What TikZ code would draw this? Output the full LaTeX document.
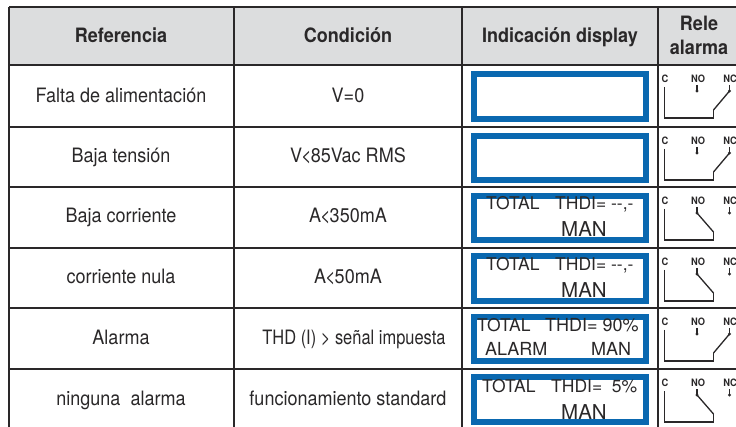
\documentclass[tikz,border=0pt]{standalone}
\usepackage{fontspec}
\setmainfont[FakeStretch=0.91]{TeX Gyre Heros}
\newfontface\thdfont[FakeStretch=0.83]{TeX Gyre Heros}
\newfontface\dispfont{TeX Gyre Heros}
\definecolor{ink}{HTML}{2A2829}
\definecolor{headbg}{HTML}{DCDDDE}
\definecolor{dispblue}{HTML}{0A68B0}
\newcommand{\lessk}{\kern-1pt<\kern-1pt}
\tikzset{
 rule/.style={draw=ink,line width=2pt},
 headtxt/.style={font=\fontsize{19.8}{24}\selectfont\bfseries,text=ink,inner sep=0pt,anchor=base},
 celltxt/.style={font=\fontsize{19.8}{22}\selectfont,text=ink,inner sep=0pt,anchor=base},
 disptxt/.style={font=\dispfont\fontsize{17.5}{20}\selectfont,text=ink,inner sep=0pt,anchor=base west},
 manfont/.style={font=\dispfont\fontsize{20.5}{22}\selectfont,text=ink,inner sep=0pt,anchor=base west},
 dispbox/.style={draw=dispblue,line width=6pt,fill=white,minimum width=172pt,minimum height=44.5pt,anchor=center},
 rlab/.style={font=\fontsize{10.2}{11}\selectfont\bfseries,text=ink,inner sep=0pt},
 wire/.style={draw=ink,line width=1.3pt},
}
\newcommand{\relaycell}[2]{%
 \node[rlab] (#1c) at (665,{-(#2+14)}) {C};
 \node[rlab] (#1no) at (698,{-(#2+14)}) {NO};
 \node[rlab] (#1nc) at (730,{-(#2+14)}) {NC};
 \coordinate (#1ct) at (664.5,{-(#2+22)});
 \coordinate (#1cb) at (664.5,{-(#2+53)});
 \coordinate (#1pb) at (713.5,{-(#2+53)});
 \coordinate (#1pk) at (713.5,{-(#2+45)});
 \coordinate (#1not) at (697,{-(#2+20)});
 \coordinate (#1nob) at (697,{-(#2+26)});
 \coordinate (#1nct) at (729.5,{-(#2+20)});
 \coordinate (#1ncb) at (729.5,{-(#2+26)});
 \draw[wire] (#1ct) -- (#1cb) -- (#1pb) -- (#1pk);
 \draw[wire] (#1not) -- (#1nob); \fill[ink] (#1nob) circle (1.7pt);
 \draw[wire] (#1nct) -- (#1ncb); \fill[ink] (#1ncb) circle (1.7pt);
}
\begin{document}
\begin{tikzpicture}[x=1pt,y=1pt]
\useasboundingbox (0,0) rectangle (736,-427);
\fill[white] (0,0) rectangle (736,-427);
\fill[headbg] (9,-7) rectangle (736,-65);
% headers
\node[headtxt] (h1) at (121,-43) {Referencia};
\node[headtxt] (h2) at (348,-43) {Condición};
\node[headtxt] (h3) at (560,-43) {Indicación display};
\node[headtxt] (h4a) at (699,-31) {Rele};
\node[headtxt] (h4b) at (699,-55) {alarma};
% column 1
\node[celltxt] (a1) at (121,-102.5) {Falta de alimentación};
\node[celltxt] (a2) at (121,-163) {Baja tensión};
\node[celltxt] (a3) at (121,-223) {Baja corriente};
\node[celltxt] (a4) at (121,-284) {corriente nula};
\node[celltxt] (a5) at (121,-344.5) {Alarma};
\node[celltxt] (a6) at (121,-405) {ninguna\ \ alarma};
% column 2
\node[celltxt] (b1) at (348,-102.5) {V=0};
\node[celltxt] (b2) at (348,-163) {V\lessk 85Vac RMS};
\node[celltxt] (b3) at (348,-223) {A\lessk 350mA};
\node[celltxt] (b4) at (348,-284) {A\lessk 50mA};
\node[celltxt,font=\thdfont\fontsize{19.8}{22}\selectfont] (b5) at (354,-344.5) {THD (I) > señal impuesta};
\node[celltxt] (b6) at (348,-405) {funcionamiento standard};
% displays
\node[dispbox] (d1) at (560,-96.5) {};
\node[dispbox] (d2) at (560,-158) {};
\node[dispbox] (d3) at (560,-218) {};
\node[dispbox] (d4) at (560,-278.5) {};
\node[dispbox] (d5) at (560,-339) {};
\node[dispbox] (d6) at (560,-399.5) {};
% display texts
\node[disptxt] (t3a) at (486,-210) {TOTAL};
\node[disptxt] (t3b) at (555,-210) {THDI= -{}-,-};
\node[manfont] (t3c) at (561,-237) {MAN};
\node[disptxt] (t4a) at (486,-271) {TOTAL};
\node[disptxt] (t4b) at (555,-271) {THDI= -{}-,-};
\node[manfont] (t4c) at (561,-298) {MAN};
\node[disptxt] (t5a) at (477,-332) {TOTAL};
\node[disptxt,font=\dispfont\fontsize{18}{20}\selectfont] (t5b) at (545,-332) {THDI= 90\%};
\node[disptxt,font=\dispfont\fontsize{18}{20}\selectfont] (t5c) at (485,-355.5) {ALARM};
\node[disptxt,font=\dispfont\fontsize{18}{20}\selectfont] (t5d) at (591,-355.5) {MAN};
\node[disptxt] (t6a) at (482,-392) {TOTAL};
\node[disptxt] (t6b) at (551,-392) {THDI=\ \ 5\%};
\node[manfont] (t6c) at (561,-419) {MAN};
% relays
\relaycell{r1}{65}
\draw[wire] (r1pk) -- (r1ncb);
\relaycell{r2}{127}
\draw[wire] (r2pk) -- (r2ncb);
\relaycell{r3}{187}
\draw[wire] (r3pk) -- (r3nob);
\relaycell{r4}{248}
\draw[wire] (r4pk) -- (r4nob);
\relaycell{r5}{308}
\draw[wire] (r5pk) -- (r5ncb);
\relaycell{r6}{369}
\draw[wire] (r6pk) -- (r6nob);
% grid
\draw[rule] (9,-7) -- (736,-7);
\draw[rule] (9,-65) -- (736,-65);
\draw[rule] (9,-127) -- (736,-127);
\draw[rule] (9,-187) -- (736,-187);
\draw[rule] (9,-248) -- (736,-248);
\draw[rule] (9,-308) -- (736,-308);
\draw[rule] (9,-369) -- (736,-369);
\draw[rule] (9,-7) -- (9,-427);
\draw[rule] (234,-7) -- (234,-427);
\draw[rule] (462,-7) -- (462,-427);
\draw[rule] (658,-7) -- (658,-427);
\end{tikzpicture}
\end{document}
